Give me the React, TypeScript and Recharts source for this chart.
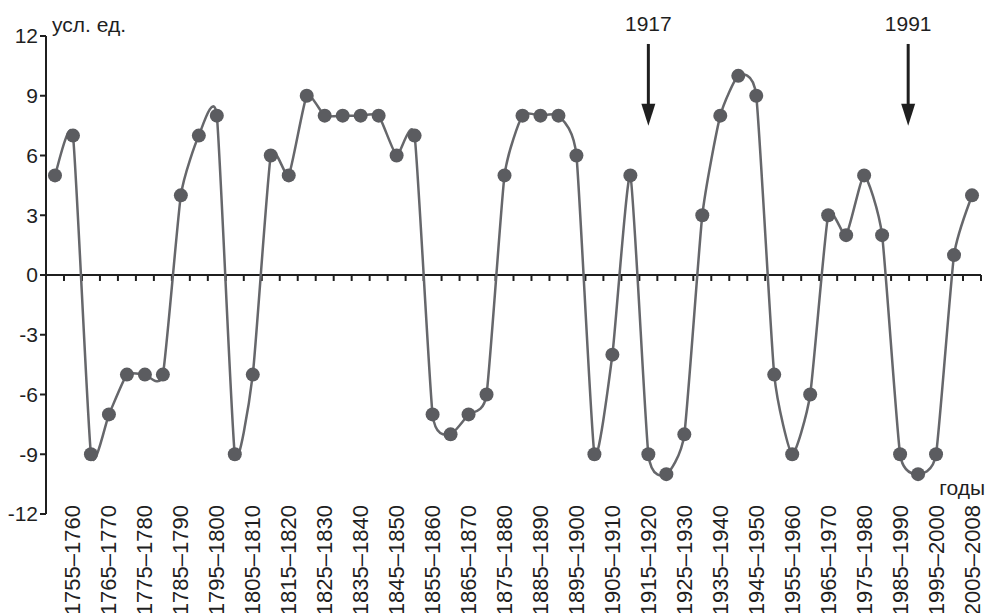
import React from "react";
import { LineChart, Line, XAxis, YAxis, ReferenceLine, ReferenceDot } from "recharts";

// 5-year intervals, the first one (1750–1755) has no label on the axis
const PERIODS = [
  "1750–1755", "1755–1760", "1760–1765", "1765–1770", "1770–1775", "1775–1780",
  "1780–1785", "1785–1790", "1790–1795", "1795–1800", "1800–1805", "1805–1810",
  "1810–1815", "1815–1820", "1820–1825", "1825–1830", "1830–1835", "1835–1840",
  "1840–1845", "1845–1850", "1850–1855", "1855–1860", "1860–1865", "1865–1870",
  "1870–1875", "1875–1880", "1880–1885", "1885–1890", "1890–1895", "1895–1900",
  "1900–1905", "1905–1910", "1910–1915", "1915–1920", "1920–1925", "1925–1930",
  "1930–1935", "1935–1940", "1940–1945", "1945–1950", "1950–1955", "1955–1960",
  "1960–1965", "1965–1970", "1970–1975", "1975–1980", "1980–1985", "1985–1990",
  "1990–1995", "1995–2000", "2000–2005", "2005–2008",
];

const VALUES = [
  5, 7, -9, -7, -5, -5, -5, 4, 7, 8, -9, -5, 6, 5, 9, 8, 8, 8, 8, 6, 7, -7, -8, -7, -6, 5,
  8, 8, 8, 6, -9, -4, 5, -9, -10, -8, 3, 8, 10, 9, -5, -9, -6, 3, 2, 5, 2, -9, -10, -9, 1, 4,
];

const Y_TICKS = [-12, -9, -6, -3, 0, 3, 6, 9, 12];

// only every other period is labelled
const X_TICKS = PERIODS.map((_, i) => i).filter((i) => i % 2 === 1);

// boundaries between periods -> little ticks on the zero line
const BOUNDS = PERIODS.map((_, i) => i + 0.5).concat([-0.5]);

// events marked by arrows (position in period index)
const EVENTS = [
  { label: "1917", x: 33 },
  { label: "1991", x: 47.45 },
];

const data = PERIODS.map((p, i) => ({ idx: i, period: p, value: VALUES[i] }));

const FONT = "'Liberation Sans', Arial, Helvetica, sans-serif";
const INK = "#1f1f1f";

// cardinal spline with some tension, passes through every point
const cardinal = (context: any) => {
  let pts: number[][] = [];
  const k = 0.085;
  return {
    areaStart() {},
    areaEnd() {},
    lineStart() {
      pts = [];
    },
    point(x: number, y: number) {
      pts.push([+x, +y]);
    },
    lineEnd() {
      if (!pts.length) return;
      context.moveTo(pts[0][0], pts[0][1]);
      for (let i = 0; i < pts.length - 1; i++) {
        const p0 = pts[i - 1] || pts[i];
        const p1 = pts[i];
        const p2 = pts[i + 1];
        const p3 = pts[i + 2] || p2;
        context.bezierCurveTo(
          p1[0] + (p2[0] - p0[0]) * k,
          p1[1] + (p2[1] - p0[1]) * k,
          p2[0] - (p3[0] - p1[0]) * k,
          p2[1] - (p3[1] - p1[1]) * k,
          p2[0],
          p2[1]
        );
      }
    },
  };
};

function PeriodTick(props: any) {
  const { x, y, payload } = props;
  const ty = y - 17;
  return (
    <text
      x={x}
      y={ty}
      transform={`rotate(-90 ${x} ${ty})`}
      textAnchor="end"
      dominantBaseline="central"
      fontSize={22}
      fontFamily={FONT}
      fill={INK}
    >
      {PERIODS[payload.value]}
    </text>
  );
}

function Arrow(props: any) {
  const { x1, y1, y2, label } = props;
  return (
    <g>
      <text x={x1} y={y1 - 13} textAnchor="middle" fontSize={21} fontFamily={FONT} fill={INK}>
        {label}
      </text>
      <line x1={x1} y1={y1} x2={x1} y2={y2 - 18} stroke={INK} strokeWidth={3} />
      <path d={`M${x1 - 7},${y2 - 22} L${x1 + 7},${y2 - 22} L${x1},${y2} Z`} fill={INK} />
    </g>
  );
}

export default function App() {
  return (
    <div style={{ position: "fixed", left: 0, top: 0, width: 990, height: 613, background: "#fff" }}>
      <LineChart width={990} height={613} data={data} margin={{ top: 36, right: 9, left: 0, bottom: 0 }}>
        <XAxis
          dataKey="idx"
          type="number"
          domain={[-0.5, 51.5]}
          ticks={X_TICKS}
          interval={0}
          axisLine={false}
          tickLine={false}
          height={99}
          tick={<PeriodTick />}
        />
        <YAxis
          domain={[-12, 12]}
          ticks={Y_TICKS}
          interval={0}
          width={46}
          axisLine={{ stroke: INK, strokeWidth: 2 }}
          tickLine={{ stroke: INK, strokeWidth: 2 }}
          tickSize={6}
          tickMargin={2}
          tick={{ fontSize: 21, fontFamily: FONT, fill: INK }}
        />

        <ReferenceLine y={0} stroke={INK} strokeWidth={2} />
        {BOUNDS.map((b) => (
          <ReferenceLine
            key={b}
            segment={[
              { x: b, y: 0 },
              { x: b, y: -0.3 },
            ]}
            stroke={INK}
            strokeWidth={2}
          />
        ))}

        <Line
          dataKey="value"
          type={cardinal as any}
          stroke="#66676b"
          strokeWidth={2.5}
          dot={{ r: 7, fill: "#5b5c60", stroke: "none" }}
          activeDot={false}
          isAnimationActive={false}
        />

        {EVENTS.map((e) => (
          <ReferenceLine
            key={e.label}
            segment={[
              { x: e.x, y: 11.6 },
              { x: e.x, y: 7.5 },
            ]}
            ifOverflow="visible"
            shape={(p: any) => <Arrow {...p} label={e.label} />}
          />
        ))}

        <ReferenceDot
          x={0}
          y={12}
          r={0}
          ifOverflow="visible"
          shape={(p: any) => (
            <text x={p.cx - 3} y={p.cy - 4} fontSize={21} fontFamily={FONT} fill={INK}>
              усл. ед.
            </text>
          )}
        />
        <ReferenceDot
          x={51}
          y={-11}
          r={0}
          ifOverflow="visible"
          shape={(p: any) => (
            <text x={p.cx + 13} y={p.cy + 1} textAnchor="end" fontSize={21} fontFamily={FONT} fill={INK}>
              годы
            </text>
          )}
        />
      </LineChart>
    </div>
  );
}
